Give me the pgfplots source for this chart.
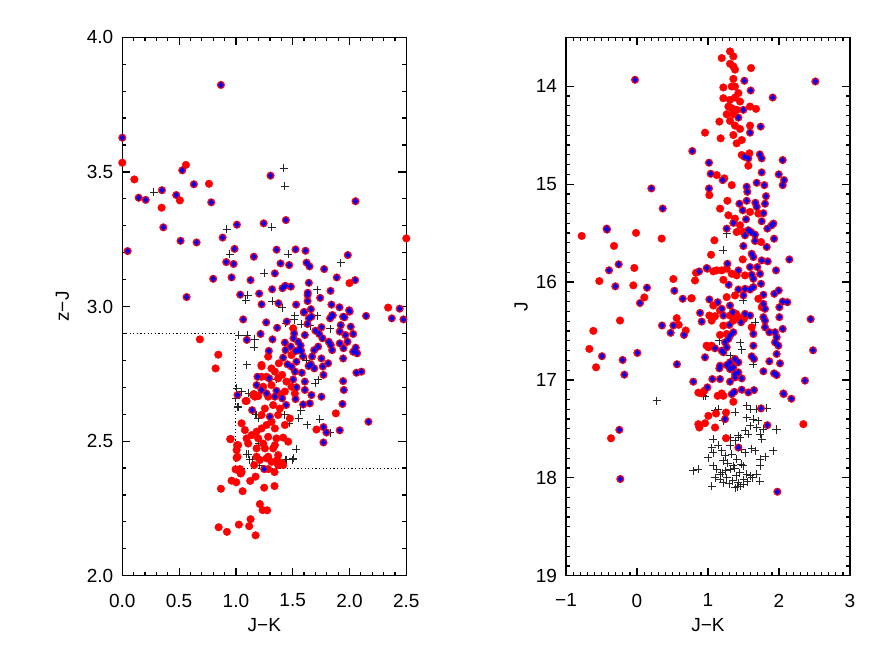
\documentclass[border=0pt]{standalone}
\usepackage{fontspec}
\setmainfont{Liberation Sans}
\usepackage{pgfplots}
\usepackage{pgfplotstable}
\pgfplotsset{compat=1.18}

% ---------------- LEFT PANEL ----------------
\pgfplotstableread{
x y
0.279 3.425
1.42 3.513
1.428 3.447
1.314 3.294
0.918 3.287
0.947 3.195
1.463 3.194
1.921 3.162
1.249 3.124
1.715 3.062
1.106 3.042
1.085 3.024
1.319 3.02
1.407 2.996
1.519 2.965
1.718 2.966
1.577 2.934
1.654 2.928
1.829 2.918
1.026 2.894
1.102 2.893
1.167 2.878
1.44 2.938
1.513 2.95
1.161 2.848
1.094 2.783
1.724 2.727
1.70 2.715
1.006 2.696
1.05 2.684
1.114 2.677
1.0 2.66
1.02 2.628
1.182 2.597
1.198 2.585
1.571 2.615
1.554 2.584
1.63 2.56
1.736 2.581
1.469 2.566
1.569 2.613
1.83 2.531
1.015 2.625
1.173 2.597
1.2 2.492
1.43 2.597
1.094 2.452
1.12 2.43
1.15 2.43
1.437 2.43
1.5 2.43
1.53 2.47
1.108 2.451
1.196 2.485
1.504 2.436
1.445 2.43
1.211 2.411
1.36 2.73
1.62 2.80
}\LeftPlus

\pgfplotstableread{
x y
0.0 3.534
0.56 3.526
0.106 3.472
0.346 3.367
0.763 3.456
0.507 3.394
2.5 3.253
2.0 3.087
2.34 2.996
0.683 2.878
0.845 2.821
0.821 2.770
1.88 2.603
1.709 2.543
0.868 2.323
0.848 2.18
0.921 2.163
1.026 2.19
1.117 2.184
1.129 2.21
1.173 2.15
1.211 2.266
1.235 2.244
1.275 2.243
1.059 2.314
0.962 2.353
1.003 2.347
1.249 2.327
1.34 2.333
1.126 2.352
1.173 2.368
0.997 2.395
1.05 2.386
1.04 2.38
0.95 2.507
1.006 2.467
1.006 2.438
1.01 2.485
1.05 2.566
1.504 2.919
1.284 2.814
1.489 2.82
1.225 2.783
1.378 2.789
1.343 2.758
1.313 2.770
1.269 2.739
1.407 2.746
1.372 2.733
1.445 2.721
1.196 2.667
1.152 2.671
1.24 2.702
1.313 2.708
1.431 2.684
1.489 2.702
1.372 2.677
1.284 2.665
1.519 2.677
1.225 2.739
1.094 2.649
1.167 2.665
0.953 2.508
1.02 2.485
1.014 2.442
1.108 2.491
1.196 2.51
1.284 2.516
1.357 2.51
1.416 2.513
1.255 2.473
1.328 2.473
1.372 2.448
1.182 2.442
1.284 2.442
1.035 2.396
1.044 2.38
1.284 2.396
1.372 2.411
1.416 2.411
1.225 2.547
1.27 2.56
1.313 2.572
1.343 2.547
1.372 2.597
1.387 2.621
1.328 2.634
1.255 2.621
1.225 2.597
1.182 2.535
1.138 2.522
1.094 2.51
1.431 2.56
1.475 2.584
1.46 2.498
1.24 2.491
1.343 2.485
1.182 2.473
1.079 2.541
1.27 2.436
1.313 2.423
1.211 2.43
1.161 2.411
1.34 2.385
1.405 2.418
1.363 2.43
1.085 2.649
1.158 2.675
1.226 2.778
}\LeftRed

\pgfplotstableread{
x y
0.868 3.823
0.0 3.627
0.528 3.506
0.349 3.432
0.144 3.404
0.206 3.396
0.475 3.414
0.63 3.454
0.783 3.387
1.305 3.486
2.053 3.391
0.361 3.294
1.009 3.304
1.244 3.309
1.44 3.321
0.047 3.206
0.513 3.244
0.654 3.238
0.883 3.256
0.988 3.214
1.158 3.185
1.358 3.211
1.525 3.212
1.613 3.207
1.985 3.191
0.915 3.165
0.98 3.158
1.393 3.16
1.469 3.154
1.622 3.163
1.648 3.149
1.777 3.139
1.343 3.123
0.8 3.103
0.962 3.108
1.129 3.098
1.888 3.108
2.05 3.098
1.642 3.088
1.319 3.064
1.41 3.068
1.434 3.077
1.484 3.074
1.633 3.051
1.833 3.058
0.566 3.035
1.038 3.044
1.205 3.048
1.226 3.008
1.375 3.012
1.53 3.007
1.631 3.02
1.631 3.043
1.742 3.032
1.841 3.007
1.912 2.997
1.997 2.986
1.601 2.980
1.66 2.99
1.642 2.956
1.829 2.956
1.853 2.967
1.956 2.96
2.146 2.965
2.442 2.992
2.372 2.956
2.475 2.952
1.064 2.952
1.267 2.941
1.598 2.978
1.665 2.962
1.847 2.968
1.944 2.962
2.002 2.981
1.363 2.921
1.448 2.944
1.63 2.935
1.753 2.923
1.923 2.931
2.011 2.925
1.914 2.907
1.964 2.894
2.032 2.898
1.096 2.876
1.217 2.898
1.322 2.878
1.513 2.900
1.607 2.894
1.507 2.882
1.7 2.910
1.733 2.898
1.762 2.882
1.818 2.869
1.914 2.863
1.947 2.845
1.982 2.869
2.032 2.832
2.055 2.847
2.067 2.826
1.944 2.807
2.105 2.758
2.061 2.754
1.944 2.723
1.95 2.690
1.431 2.866
1.483 2.851
1.548 2.869
1.57 2.855
1.55 2.838
1.525 2.834
1.575 2.835
1.59 2.815
1.29 2.835
1.437 2.838
1.416 2.81
1.689 2.838
1.671 2.814
1.724 2.851
1.753 2.807
1.835 2.857
1.847 2.838
1.812 2.789
1.765 2.777
1.771 2.746
1.454 2.785
1.533 2.795
1.64 2.779
1.58 2.754
1.52 2.758
1.49 2.776
1.66 2.785
1.69 2.770
1.19 2.739
1.293 2.733
1.504 2.729
1.607 2.721
1.182 2.708
1.357 2.687
1.27 2.677
1.225 2.69
1.607 2.690
1.533 2.70
1.665 2.671
1.753 2.665
1.014 2.671
1.143 2.615
1.299 2.591
1.343 2.665
1.407 2.659
1.442 2.634
1.525 2.656
1.592 2.636
1.651 2.64
1.938 2.638
2.167 2.572
1.771 2.552
1.797 2.532
1.914 2.54
1.771 2.495
1.249 2.396
}\LeftBlue

% ---------------- RIGHT PANEL ----------------
\pgfplotstableread{
x y
0.277 17.212
1.216 15.676
1.263 15.506
1.498 16.188
1.662 16.41
1.16 16.598
1.451 16.622
1.475 16.69
1.31 16.752
1.639 16.838
0.958 17.168
1.099 17.315
1.146 17.298
1.381 17.332
1.545 17.264
1.592 17.298
1.686 17.298
1.827 17.291
1.545 17.384
1.639 17.401
1.709 17.418
1.216 17.418
1.592 17.469
1.686 17.486
1.78 17.503
1.521 17.52
1.568 17.554
1.733 17.554
1.756 17.606
1.428 17.572
1.31 17.589
1.381 17.623
1.451 17.589
1.075 17.606
1.052 17.691
1.146 17.667
1.193 17.725
1.075 17.742
1.005 17.793
1.24 17.776
1.334 17.759
1.475 17.708
1.521 17.742
1.615 17.701
1.662 17.725
1.92 17.725
1.733 17.811
1.404 17.811
1.216 17.828
1.075 17.879
1.122 17.913
1.169 17.964
1.31 17.913
1.357 17.879
1.498 17.879
1.545 17.964
1.592 17.981
1.686 17.964
1.263 17.998
1.169 18.015
1.216 18.05
1.428 18.05
1.498 18.067
1.052 18.084
1.381 18.101
1.451 18.084
0.794 17.93
0.864 17.913
1.31 17.674
1.733 17.879
1.967 17.503
1.2 17.95
1.25 17.93
1.4 17.98
1.45 17.95
1.35 18.03
1.5 18.02
1.3 18.06
1.55 18.04
1.42 18.09
1.1 18.0
1.62 18.0
1.28 17.85
1.38 17.9
1.47 17.86
1.958 17.51
1.803 17.783
1.732 18.033
0.934 17.161
}\RightPlus

\pgfplotstableread{
x y
1.31 13.644
1.193 13.712
1.357 13.695
1.31 13.77
1.357 13.797
1.38 13.83
1.606 13.814
1.357 13.924
1.38 14.002
1.216 14.012
1.334 14.002
1.428 14.07
1.216 14.122
1.31 14.139
1.38 14.115
1.451 14.156
1.287 14.207
1.334 14.224
1.404 14.241
1.263 14.286
1.357 14.286
1.592 14.207
1.676 14.231
1.16 14.361
1.31 14.354
1.38 14.402
1.451 14.436
1.592 14.402
1.357 14.498
1.475 14.549
1.404 14.583
0.958 14.474
1.178 14.532
1.583 14.685
1.475 14.702
1.568 14.812
1.122 14.907
1.23 14.941
1.334 15.01
1.019 15.112
1.273 15.17
1.17 15.25
1.287 15.318
1.38 15.352
1.592 15.284
1.709 15.301
1.451 15.42
1.498 15.489
1.404 15.489
1.747 15.591
1.09 15.574
1.043 15.721
1.489 15.769
1.263 15.864
1.193 15.881
1.122 15.881
1.075 15.891
0.817 15.984
0.831 15.905
0.991 15.864
1.216 15.977
1.334 15.916
1.521 15.932
1.404 15.932
0.77 16.165
1.263 16.154
1.38 16.137
1.709 16.171
1.756 16.257
1.075 16.24
1.169 16.291
1.099 16.349
1.019 16.342
1.052 16.394
1.395 16.325
1.357 16.394
1.428 16.359
1.31 16.342
1.615 16.462
1.507 16.376
1.216 16.445
1.169 16.54
1.263 16.53
1.005 16.667
1.05 16.65
0.98 16.65
1.334 16.82
1.357 16.855
-0.779 15.529
-0.014 15.498
0.347 15.556
-0.324 15.631
-0.038 15.856
-0.531 15.99
-0.052 16.034
0.103 16.157
-0.239 16.393
-0.615 16.499
-0.671 16.683
-0.577 16.871
0.512 15.969
0.765 16.167
0.559 16.369
0.587 16.437
0.686 16.495
0.864 17.13
0.911 17.138
0.949 17.11
1.136 17.162
1.193 17.138
1.216 17.162
1.357 17.223
1.113 17.343
1.254 17.333
1.005 17.367
0.864 17.452
0.878 17.486
0.958 17.442
1.099 17.486
1.254 17.595
2.343 17.452
-0.366 17.596
}\RightRed

\pgfplotstableread{
x y
-0.028 13.934
2.512 13.951
0.779 14.662
0.202 15.044
0.362 15.249
-0.427 15.454
1.512 13.944
1.601 14.043
1.911 14.115
1.498 14.241
1.428 14.32
1.742 14.412
1.592 14.474
1.512 14.72
1.568 14.737
1.73 14.696
1.756 14.737
2.052 14.754
1.014 14.781
1.038 14.894
1.207 14.959
1.756 14.88
1.996 14.9
2.071 14.959
2.052 15.01
1.686 14.986
1.794 15.01
1.545 15.027
1.554 15.078
1.014 15.044
1.817 15.123
1.442 15.2
1.545 15.17
1.667 15.19
1.803 15.2
1.489 15.267
1.780 15.297
1.686 15.232
1.357 15.396
1.536 15.359
1.756 15.379
1.921 15.403
1.897 15.42
1.263 15.454
1.568 15.471
1.606 15.489
1.662 15.516
1.521 15.523
1.836 15.454
1.93 15.557
1.662 15.581
1.498 15.632
1.827 15.642
1.615 15.711
1.639 15.745
1.756 15.779
1.841 15.789
2.146 15.769
1.273 15.813
0.874 15.892
0.982 15.857
1.428 15.881
1.592 15.847
1.695 15.847
1.615 15.926
1.733 15.916
1.639 15.967
1.958 15.881
1.291 16.028
1.747 16.018
1.428 16.076
1.521 16.069
1.592 16.076
1.639 16.052
1.498 16.137
1.934 16.12
1.996 16.086
1.78 16.13
0.644 16.171
1.019 16.178
1.136 16.206
1.193 16.274
1.31 16.24
1.348 16.308
1.216 16.342
0.888 16.315
0.911 16.404
2.052 16.199
2.118 16.206
2.005 16.257
1.78 16.223
1.803 16.274
1.78 16.359
1.803 16.394
1.521 16.325
1.592 16.342
2.005 16.359
1.465 16.411
1.301 16.438
2.052 16.479
0.662 16.54
1.357 16.513
1.31 16.547
1.287 16.581
1.639 16.53
1.803 16.462
1.864 16.513
1.944 16.513
1.967 16.564
1.944 16.616
1.991 16.65
1.639 16.65
1.24 16.616
1.263 16.667
1.099 16.677
1.193 16.701
1.216 16.718
0.958 16.769
1.615 16.759
1.648 16.786
1.864 16.81
2.014 16.831
1.38 16.786
1.428 16.82
1.169 16.855
1.263 16.848
1.967 16.735
-0.423 15.464
-0.258 15.819
-0.394 15.88
-0.305 16.044
0.141 16.058
0.042 16.215
-0.493 16.758
-0.202 16.796
-0.178 16.946
0.005 16.724
0.526 16.089
0.352 16.444
0.474 16.519
0.512 16.444
0.563 16.84
0.793 17.018
2.446 16.379
2.479 16.697
2.366 17.007
2.174 17.192
2.066 17.144
1.16 16.882
1.31 16.82
1.357 16.872
1.38 16.94
1.428 16.923
1.31 16.889
1.38 16.974
1.31 17.018
1.475 16.984
1.78 16.912
1.93 16.933
1.967 16.95
1.061 16.991
1.169 16.991
0.991 17.076
1.334 17.145
1.371 17.121
1.475 17.1
1.568 17.128
1.648 17.104
2.061 17.138
1.747 17.291
1.24 17.401
1.836 17.462
1.428 17.691
1.977 18.142
-0.249 17.51
-0.235 18.012
}\RightBlue

\pgfplotsset{
  panel/.style={
    scale only axis, width=142pt, height=269.2pt,
    clip mode=individual,
    axis line style={line width=0.7pt},
    tick style={black, line width=0.6pt},
    major tick length=4pt, minor tick length=2pt,
    tick align=inside,
    /pgf/number format/assume math mode=true,
    tick label style={font=\fontsize{9.5}{11}\selectfont},
    label style={font=\fontsize{9.5}{11}\selectfont},
    xticklabel style={yshift=-5.5pt},
    yticklabel style={xshift=-1pt},
    xlabel style={at={(axis description cs:0.5,-0.066)}, anchor=north},
  },
  plusm/.style={only marks, mark=+, mark size=2pt, mark options={black!85, line width=0.5pt}},
  redm/.style={only marks, mark=*, mark size=1.9pt, mark options={fill=red, draw=red, line width=0.2pt}},
  bluem/.style={only marks, mark=diamond*, mark size=1.65pt, mark options={fill=blue, draw=blue, line width=0.1pt}},
}

\begin{document}
\begin{tikzpicture}
\path (0,0) rectangle (443.5pt,327pt);

\begin{axis}[panel,
  at={(61.15pt,39.15pt)}, anchor=south west,
  xmin=0, xmax=2.5, ymin=2, ymax=4,
  xtick={0,0.5,1,1.5,2,2.5}, xticklabels={0.0,0.5,1.0,1.5,2.0,2.5},
  ytick={2,2.5,3,3.5,4}, yticklabels={2.0,2.5,3.0,3.5,4.0},
  minor x tick num=4, minor y tick num=4,
  xlabel={J−K}, ylabel={z−J},
  ylabel style={at={(axis description cs:-0.211,0.5)}, anchor=center},
]
\addplot[black, line width=0.5pt, dash pattern=on 0.6pt off 1.2pt] coordinates {(0,2.9) (1.0,2.9) (1.0,2.4) (2.5,2.4)};
\addplot[plusm] table {\LeftPlus};
\addplot[redm] table {\LeftRed};
\addplot[redm] table {\LeftBlue};
\addplot[bluem] table {\LeftBlue};
\end{axis}

\begin{axis}[panel,
  at={(283pt,39.15pt)}, anchor=south west,
  xmin=-1, xmax=3, ymin=13.5, ymax=19, y dir=reverse,
  xtick={-1,0,1,2,3}, xticklabels={−1,0,1,2,3},
  ytick={14,15,16,17,18,19}, yticklabels={14,15,16,17,18,19},
  minor x tick num=9, minor y tick num=9,
  xlabel={J−K}, ylabel={J},
  ylabel style={at={(axis description cs:-0.158,0.5)}, anchor=center},
]
\addplot[plusm] table {\RightPlus};
\addplot[redm] table {\RightRed};
\addplot[redm] table {\RightBlue};
\addplot[bluem] table {\RightBlue};
\end{axis}
\end{tikzpicture}
\end{document}
